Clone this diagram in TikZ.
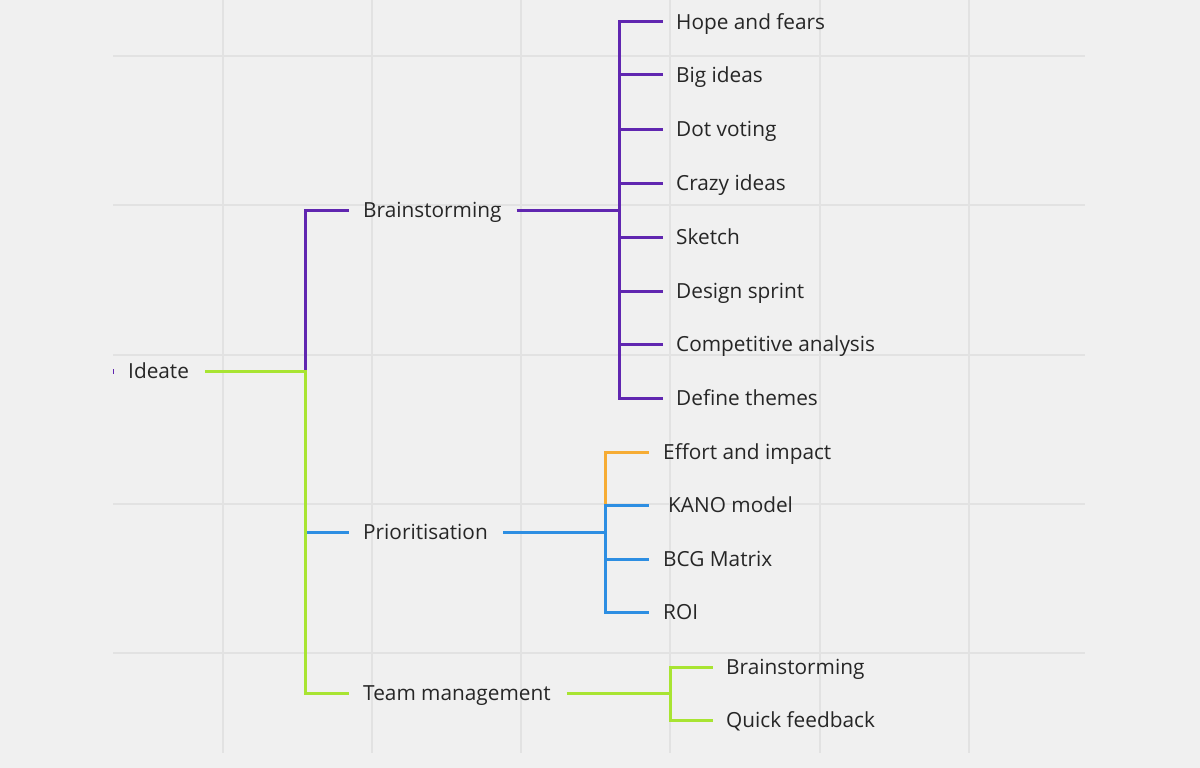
\documentclass[tikz,border=0pt]{standalone}
\usepackage{fontspec}
\setmainfont{Open Sans}
\definecolor{bgc}{RGB}{240,240,240}
\definecolor{gridc}{RGB}{226,226,226}
\definecolor{txt}{RGB}{38,38,38}
\definecolor{purp}{RGB}{96,38,176}
\definecolor{blu}{RGB}{45,142,226}
\definecolor{grn}{RGB}{168,228,50}
\definecolor{orng}{RGB}{246,172,52}
\begin{document}
\begin{tikzpicture}[x=1pt,y=-1pt,
  lbl/.style={anchor=west,inner sep=0pt,text height=15pt,text depth=0pt,
    font=\fontsize{20.8}{24}\selectfont,text=txt},
  conn/.style={line width=3pt},
  gridline/.style={gridc,line width=1.2pt}]
\fill[bgc] (0,0) rectangle (1200,768);
\useasboundingbox (0,0) rectangle (1200,768);
% grid
\foreach \x in {223,372,521,670,820,969} \draw[gridline] (\x,0) -- (\x,753);
\foreach \y in {56,205,355,504,653} \draw[gridline] (113,\y) -- (1085,\y);

% nodes
\node[lbl] (ideate) at (128,371) {Ideate};
\node[lbl] (brain) at (363,210) {Brainstorming};
\node[lbl] (prior) at (363,532) {Prioritisation};
\node[lbl] (team) at (363,693) {Team management};

\node[lbl] (hope) at (676,22) {Hope and fears};
\node[lbl] (big) at (676,75) {Big ideas};
\node[lbl] (dot) at (676,129) {Dot voting};
\node[lbl] (crazy) at (676,183) {Crazy ideas};
\node[lbl] (sketch) at (676,237) {Sketch};
\node[lbl] (sprint) at (676,291) {Design sprint};
\node[lbl] (comp) at (676,344) {Competitive analysis};
\node[lbl] (themes) at (676,398) {Define themes};

\node[lbl] (effort) at (663,452) {Effort and impact};
\node[lbl] (kano) at (668,505) {KANO model};
\node[lbl] (bcg) at (663,559) {BCG Matrix};
\node[lbl] (roi) at (663,612) {ROI};

\node[lbl] (tbrain) at (726,667) {Brainstorming};
\node[lbl] (quick) at (726,720) {Quick feedback};

% junctions
\coordinate (j0) at (305,371);
\coordinate (jp) at (305,532);
\coordinate (j1) at (619,210);
\coordinate (j2) at (605,532);
\coordinate (jo) at (605,505);
\coordinate (j3) at (670,693);
\coordinate (tickA) at (113,369);
\coordinate (tickB) at (113,374);

% level 1
\draw[purp,line width=1pt] (tickA) -- (tickB);
\draw[conn,purp] (j0) |- ([xshift=-14pt]brain.west);
\draw[conn,blu] (jp) -- ([xshift=-14pt]prior.west);
\draw[conn,grn] ([xshift=16pt]ideate.east) -- (j0) |- ([xshift=-14pt]team.west);

% brainstorming
\draw[conn,purp] ([xshift=15pt]brain.east) -- (j1);
\foreach \c in {hope,big,dot,crazy,sketch,sprint,comp,themes}
  \draw[conn,purp] (j1) |- ([xshift=-13pt]\c.west);

% prioritisation
\draw[conn,blu] ([xshift=15pt]prior.east) -- (j2);
\draw[conn,orng] (jo) |- ([xshift=-14pt]effort.west);
\draw[conn,blu] (j2) |- ([xshift=-19pt]kano.west);
\draw[conn,blu] (j2) |- ([xshift=-14pt]bcg.west);
\draw[conn,blu] (j2) |- ([xshift=-14pt]roi.west);

% team management
\draw[conn,grn] ([xshift=16pt]team.east) -- (j3);
\draw[conn,grn] (j3) |- ([xshift=-13pt]tbrain.west);
\draw[conn,grn] (j3) |- ([xshift=-13pt]quick.west);
\end{tikzpicture}
\end{document}
